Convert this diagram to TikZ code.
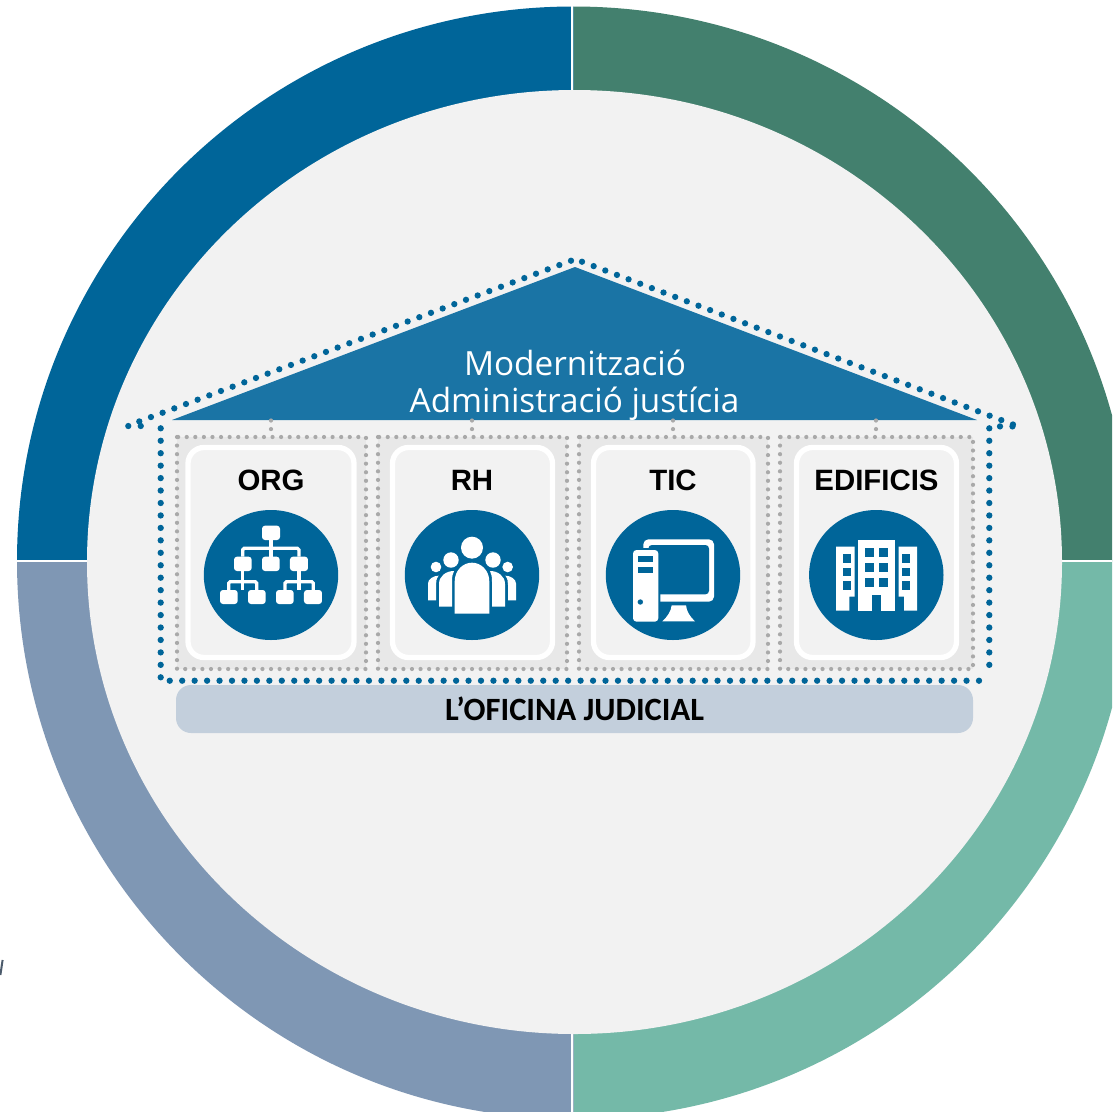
\documentclass[tikz,border=0pt]{standalone}
\usepackage{fontspec}
\setmainfont{Liberation Sans}
\newfontfamily\titlefont{Open Sans}
\newfontfamily\barfont{Carlito}
\definecolor{ringTL}{HTML}{006599}
\definecolor{ringTR}{HTML}{43806E}
\definecolor{ringBR}{HTML}{74B9A8}
\definecolor{ringBL}{HTML}{7F97B4}
\definecolor{hub}{HTML}{F2F2F2}
\definecolor{roof}{HTML}{1A74A5}
\definecolor{navy}{HTML}{006599}
\definecolor{bay}{HTML}{E8E8E8}
\definecolor{dotgray}{HTML}{A9A9A9}
\definecolor{barfill}{HTML}{C3CFDC}
\tikzset{
  bluedots/.style={draw=navy,line width=6.3pt,line cap=round,dash pattern=on 0pt off 12.45pt},
  graydots/.style={draw=dotgray,line width=4.2pt,line cap=round,dash pattern=on 0pt off 8.58pt},
  baybox/.style={fill=bay,graydots},
  cardbox/.style={draw=white,fill=hub,line width=5.3pt,rounded corners=16pt},
  cardlabel/.style={font=\fontsize{29.4}{29.4}\selectfont\bfseries,text=black,inner sep=0pt,anchor=base},
  titletext/.style={font=\titlefont\fontsize{33.3}{33.3}\selectfont,text=white,inner sep=0pt,anchor=base},
  icon/.style={fill=white,draw=none},
  iconline/.style={draw=white,line width=3.3pt},
  zoomed/.style={x=0.33333pt,y=-0.33333pt}
}
\begin{document}
\begin{tikzpicture}[x=1pt,y=-1pt]
\useasboundingbox (0,0) rectangle (1112,1112);
\fill[white] (0,0) rectangle (1112,1112);
% ring
\begin{scope}
\clip (0,0) rectangle (1112,1112);
\fill[ringTL] (17,561) arc[start angle=180,end angle=90,x radius=556.5pt,y radius=554.5pt] -- (573.5,561) -- cycle;
\fill[ringTR] (573.5,6.5) arc[start angle=90,end angle=0,x radius=558pt,y radius=554.5pt] -- (573.5,561) -- cycle;
\fill[ringBR] (1131.5,561) arc[start angle=0,end angle=-90,x radius=558pt,y radius=558pt] -- (573.5,561) -- cycle;
\fill[ringBL] (573.5,1119) arc[start angle=-90,end angle=-180,x radius=556.5pt,y radius=558pt] -- (573.5,561) -- cycle;
\draw[white,line width=2.3pt] (572.2,0) -- (572.2,1112);
\draw[white,line width=2.4pt] (0,561) -- (1112,561);
\end{scope}
\fill[hub] (574.5,562) ellipse[x radius=487.5pt,y radius=472pt];
\draw[ringBL!60!black,line width=2pt] (2.6,960) -- (0.4,975);
% roof
\coordinate (eaveL) at (172,420);
\coordinate (apex) at (575,267);
\coordinate (eaveR) at (977,420);
\fill[roof] (eaveL) -- (apex) -- (eaveR) -- cycle;
\node[titletext] (t1) at (575,375) {Modernització};
\node[titletext] (t2) at (574.5,412.7) {Administració justícia};
% bays
\foreach \a/\b in {177/366,378/567,579/768,780/973}{
  \draw[baybox] (\a,437) rectangle (\b,669);
}
\coordinate (baseA) at (271,420); \coordinate (topA) at (271,437);
\coordinate (baseB) at (472,420); \coordinate (topB) at (472,437);
\coordinate (baseC) at (673,420); \coordinate (topC) at (673,437);
\coordinate (baseD) at (876,420); \coordinate (topD) at (876,437);
\foreach \n in {A,B,C,D}{\draw[graydots] (base\n) ++(0,0.5) -- (top\n);}
% cards
\foreach \a/\b in {188/354,392.5/552.5,593.5/753,796.5/956.5}{
  \draw[cardbox] (\a,447.5) rectangle (\b,657.5);
}
\node[cardlabel] (org) at (271,490.5) {ORG};
\node[cardlabel] (rh) at (472,490.5) {RH};
\node[cardlabel] (tic) at (673,490) {TIC};
\node[cardlabel] (edif) at (876.5,490.5) {EDIFICIS};
\foreach \c in {271,472,673,876.3}{
  \fill[navy] (\c,575) ellipse[x radius=67.2pt,y radius=65pt];
}
% org icon
\begin{scope}[shift={(120,400)},zoomed]
\draw[iconline] (453,420) -- (453,470);
\draw[iconline,rounded corners=1.5pt] (368,470) -- (368,445) -- (537,445) -- (537,470);
\draw[iconline] (368,513) -- (368,570);
\draw[iconline] (537,513) -- (537,570);
\draw[iconline,rounded corners=1.5pt] (326,570) -- (326,545) -- (410,545) -- (410,570);
\draw[iconline,rounded corners=1.5pt] (495,570) -- (495,545) -- (580,545) -- (580,570);
\foreach \p/\q/\r/\s in {426/377/480/420,342/470/395/513,426/470/479/513,510/470/564/513,300/570/353/612,384/570/437/612,468/570/521/612,552/570/606/612}{
  \fill[icon,rounded corners=3pt] (\p,\q) rectangle (\r,\s);
}
\end{scope}
% people icon
\begin{scope}[shift={(370,500)},zoomed]
\fill[icon] (306,143) circle[radius=11pt];
\fill[icon] (243,180) circle[radius=7.7pt];
\fill[icon] (369,180) circle[radius=7.7pt];
\fill[icon] (198,201) circle[radius=5.3pt];
\fill[icon] (413,201) circle[radius=5.3pt];
\fill[icon] (254,341) -- (254,245) .. controls (254,210) and (280,188) .. (306,188) .. controls (332,188) and (358,210) .. (358,245) -- (358,341) -- cycle;
\fill[icon] (207,320) -- (207,252) .. controls (207,228) and (228,213) .. (252,213) .. controls (247,222) and (246,232) .. (246,245) -- (246,320) -- cycle;
\fill[icon] (405,320) -- (405,252) .. controls (405,228) and (384,213) .. (360,213) .. controls (365,222) and (366,232) .. (366,245) -- (366,320) -- cycle;
\fill[icon] (174,301) -- (174,250) .. controls (174,238) and (190,227) .. (206,227) .. controls (199,236) and (198,244) .. (198,255) -- (198,301) -- cycle;
\fill[icon] (438,301) -- (438,250) .. controls (438,238) and (422,227) .. (406,227) .. controls (413,236) and (414,244) .. (414,255) -- (414,301) -- cycle;
\end{scope}
% computer icon
\begin{scope}[shift={(370,500)},zoomed]
\fill[icon,rounded corners=5pt] (820,118) rectangle (1032,305);
\fill[navy,rounded corners=3.5pt] (835,135) rectangle (1017,283);
\fill[navy,rounded corners=4pt] (783,144) rectangle (871,371);
\fill[icon,rounded corners=3.5pt] (789,150) rectangle (865,365);
\fill[navy] (804,168) rectangle (850,185);
\fill[navy] (804,201) rectangle (850,218);
\fill[navy] (811,306) circle[radius=2.7pt];
\fill[icon] (905,316) -- (948,316) .. controls (950,335) and (960,350) .. (975,364) -- (877,364) .. controls (892,350) and (903,335) .. (905,316) -- cycle;
\end{scope}
% building icon
\begin{scope}[shift={(780,400)},zoomed]
\fill[icon] (233,420) rectangle (345,632);
\fill[icon] (168,440) -- (224,440) -- (224,590) -- (208,590) -- (208,632) -- (168,632) -- cycle;
\fill[icon] (411,440) -- (356,440) -- (356,590) -- (372,590) -- (372,632) -- (411,632) -- cycle;
\fill[navy] (276,584) rectangle (302,632);
\foreach \y in {445,490,535}{
  \fill[navy] (256,\y) rectangle ++(26,27);
  \fill[navy] (297,\y) rectangle ++(26,27);
}
\foreach \y in {462,503,543}{
  \fill[navy] (188,\y) rectangle ++(24,26);
  \fill[navy] (367,\y) rectangle ++(24,26);
}
\end{scope}
% house outline
\coordinate (hTL) at (160.7,428.3);
\coordinate (hBL) at (160.7,680.7);
\coordinate (hBE) at (981,680.7);
\coordinate (hBR) at (989.3,677);
\coordinate (hTR) at (989.3,428.3);
\draw[bluedots] (hTL) -- (hBL) -- (hBE);
\draw[bluedots] (hTR) -- (hBR);
\draw[bluedots] (571,260.7) -- (139,421.5);
\draw[bluedots] (582,261.7) -- (1013,424.5);
\draw[bluedots] (128.3,426) -- (150.5,426);
\draw[bluedots] (1000,426.4) -- (1013,426.4);
% bar
\node[fill=barfill,rounded corners=15pt,minimum width=797pt,minimum height=48pt,inner sep=0pt] (bar) at (574.5,709) {};
\node[anchor=base,inner sep=0pt,font=\barfont\bfseries\fontsize{32.5}{32.5}\selectfont,text=black] (barlabel) at (574.5,720) {L’OFICINA JUDICIAL};
\end{tikzpicture}
\end{document}
